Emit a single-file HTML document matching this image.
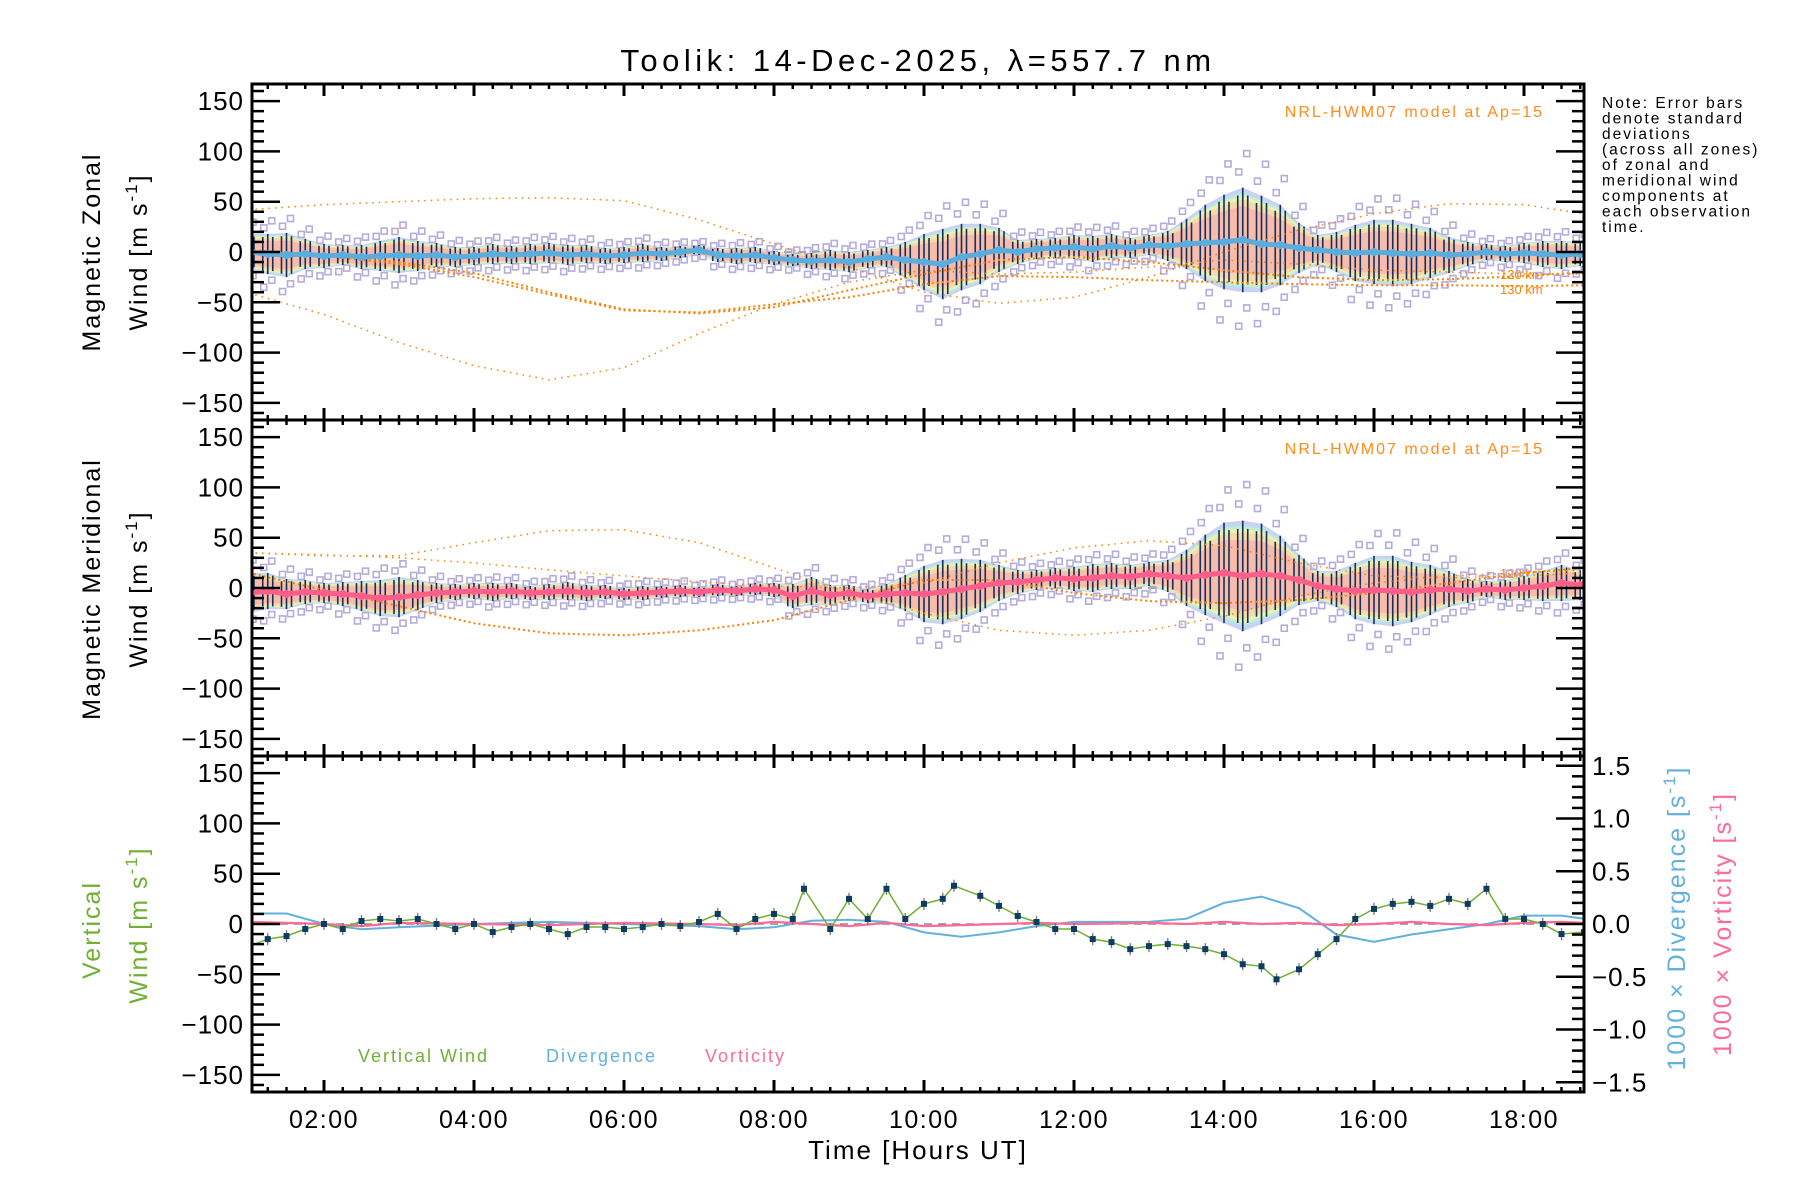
<!DOCTYPE html>
<html><head><meta charset="utf-8"><style>
html,body{margin:0;padding:0;background:#fff;}
svg{display:block;font-family:"Liberation Sans",sans-serif;}
</style></head><body>
<svg id="chart" width="1800" height="1200" viewBox="0 0 1800 1200" xmlns="http://www.w3.org/2000/svg">
<text x="918" y="71" font-size="31" letter-spacing="4.5" text-anchor="middle">Toolik: 14-Dec-2025, λ=557.7 nm</text>
<g font-size="15.5" letter-spacing="2">
<text x="1602" y="108">Note: Error bars</text><text x="1602" y="123.5">denote standard</text><text x="1602" y="139">deviations</text><text x="1602" y="154.5">(across all zones)</text><text x="1602" y="170">of zonal and</text><text x="1602" y="185.5">meridional wind</text><text x="1602" y="201">components at</text><text x="1602" y="216.5">each observation</text><text x="1602" y="232">time.</text>
</g>
<g letter-spacing="2">
<text transform="translate(100,252) rotate(-90)" font-size="25" text-anchor="middle">Magnetic Zonal</text>
<text transform="translate(147,252) rotate(-90)" font-size="25" text-anchor="middle">Wind [m s<tspan dy="-10" font-size="17">-1</tspan><tspan dy="10">]</tspan></text>
<text transform="translate(100,589) rotate(-90)" font-size="25" text-anchor="middle">Magnetic Meridional</text>
<text transform="translate(147,589) rotate(-90)" font-size="25" text-anchor="middle">Wind [m s<tspan dy="-10" font-size="17">-1</tspan><tspan dy="10">]</tspan></text>
<text transform="translate(100,930) rotate(-90)" font-size="25" fill="#6fb032" text-anchor="middle">Vertical</text>
<text transform="translate(147,925) rotate(-90)" font-size="25" fill="#6fb032" text-anchor="middle">Wind [m s<tspan dy="-10" font-size="17">-1</tspan><tspan dy="10">]</tspan></text>
<text transform="translate(1685,918) rotate(-90)" font-size="25" fill="#62b0de" text-anchor="middle">1000 × Divergence [s<tspan dy="-10" font-size="17">-1</tspan><tspan dy="10">]</tspan></text>
<text transform="translate(1731,924) rotate(-90)" font-size="25" fill="#ff6a96" text-anchor="middle">1000 × Vorticity [s<tspan dy="-10" font-size="17">-1</tspan><tspan dy="10">]</tspan></text>
<text x="918" y="1159" font-size="26" text-anchor="middle">Time [Hours UT]</text>
<text x="358" y="1062" font-size="18" fill="#6fb032">Vertical Wind</text>
<text x="546" y="1062" font-size="18" fill="#62b0de">Divergence</text>
<text x="705" y="1062" font-size="18" fill="#ff6a96">Vorticity</text>
<text x="1544" y="117" font-size="16" fill="#ff8c1a" text-anchor="end">NRL-HWM07 model at Ap=15</text>
<text x="1544" y="454" font-size="16" fill="#ff8c1a" text-anchor="end">NRL-HWM07 model at Ap=15</text>
</g>
<text x="1500" y="279" font-size="13" fill="#ff8000">120 km</text>
<text x="1500" y="294" font-size="13" fill="#ff8000">130 km</text>
<text x="1500" y="578" font-size="13" fill="#ff8000">120 km</text>
<text x="1500" y="592" font-size="13" fill="#ff8000">130 km</text>
<g id="plots"></g>
<g id="axes"></g>
</svg>
<script>
// ---- data ----
const gridHours = [];
for (let i = 0; i < 72; i++) gridHours.push(1 + 0.25 * i);
const zonalMean = [0,-2,-3,-2,-4,-3,-5,-4,-3,-4,-3,-5,-4,-2,-3,-2,-1,-3,-2,-4,-3,-1,-2,0,2,-3,-4,-3,-6,-8,-9,-8,-10,-7,-5,-8,-10,-12,-5,-2,2,0,3,4,5,3,6,4,7,6,8,9,10,12,8,7,4,2,0,-1,0,-1,-2,-1,-3,-2,0,-2,-1,-2,-3,-2];
const zonalSd = [18,20,22,15,12,10,12,15,18,15,12,10,9,10,9,10,10,10,9,8,8,9,7,6,5,7,8,8,7,6,8,10,10,9,10,18,28,35,33,30,22,12,10,10,12,13,12,10,10,15,25,38,47,52,48,40,25,15,20,28,32,33,30,25,18,12,8,8,10,13,14,12];
const merMean = [-5,-3,-6,-4,-5,-6,-8,-10,-9,-7,-5,-4,-3,-4,-3,-5,-4,-3,-5,-4,-6,-5,-4,-3,-4,-2,-3,-1,-2,-8,-3,-7,-5,-8,-6,-5,-6,-4,-1,2,5,6,8,10,9,10,12,11,14,12,10,13,15,12,14,12,8,2,-1,-3,-2,-3,-4,-2,-1,-3,-1,-2,0,2,5,3];
const merSd = [20,18,15,12,10,12,15,18,20,15,10,8,8,9,8,7,8,9,8,7,6,7,6,6,5,6,5,6,7,12,14,10,8,7,10,18,28,32,30,26,18,12,10,10,12,14,13,12,12,16,28,40,50,55,50,40,25,15,18,28,34,35,30,25,18,12,8,10,12,15,18,15];
const modelHours = [1,2,3,4,5,6,7,8,9,10,11,12,13,14,15,16,17,18,18.8];
const zonalModelA = [42,47,50,53,54,51,32,8,-15,-40,-51,-45,-25,0,22,38,48,47,38];
const zonalModelB = [-41,-62,-90,-113,-127,-115,-81,-52,-30,-18,-22,-20,-15,-8,-12,-18,-20,-22,-22];
const zonalModel120 = [2,-3,-10,-21,-40,-57,-61,-55,-38,-22,-8,-5,-10,-18,-25,-28,-27,-24,-20];
const zonalModel130 = [0,-4,-12,-25,-42,-58,-60,-52,-45,-32,-24,-25,-28,-30,-32,-33,-33,-34,-33];
const merModelA = [35,32,32,45,57,58,45,20,-5,-25,-42,-47,-42,-28,-8,5,12,15,18];
const merModelB = [35,33,30,25,18,12,6,2,0,5,25,40,47,42,25,12,10,12,15];
const merModel120 = [15,-2,-18,-35,-45,-47,-42,-32,-12,8,8,-5,-13,-15,-12,-5,5,15,20];
const vwHours = [1.0,1.25,1.5,1.75,2.0,2.25,2.5,2.75,3.0,3.25,3.5,3.75,4.0,4.25,4.5,4.75,5.0,5.25,5.5,5.75,6.0,6.25,6.5,6.75,7.0,7.25,7.5,7.75,8.0,8.25,8.4,8.75,9.0,9.25,9.5,9.75,10.0,10.25,10.4,10.75,11.0,11.25,11.5,11.75,12.0,12.25,12.5,12.75,13.0,13.25,13.5,13.75,14.0,14.25,14.5,14.7,15.0,15.25,15.5,15.75,16.0,16.25,16.5,16.75,17.0,17.25,17.5,17.75,18.0,18.25,18.5,18.8];
const vertWind = [-22,-15,-12,-5,0,-5,3,5,3,5,0,-5,0,-8,-3,0,-5,-10,-3,-3,-5,-3,0,-2,2,10,-5,5,10,5,35,-5,25,5,35,5,20,25,38,28,18,8,2,-5,-5,-15,-18,-25,-22,-20,-22,-25,-30,-40,-42,-55,-45,-30,-15,5,15,20,22,18,25,20,35,5,5,0,-10,-8];
const divHours = [1,1.5,2,2.5,3,4,5,6,7,7.5,8,8.5,9,9.5,10,10.5,11,11.5,12,13,13.5,14,14.5,15,15.5,16,16.5,17,17.5,18,18.5,18.8];
const divergence = [0.1,0.1,0.0,-0.05,-0.03,0.0,0.02,0.0,-0.02,-0.05,-0.03,0.03,0.04,0.02,-0.08,-0.12,-0.08,-0.02,0.02,0.02,0.05,0.2,0.26,0.15,-0.1,-0.17,-0.1,-0.05,0.0,0.08,0.08,0.05];
const vorticity = [0.02,0.01,0.0,-0.02,0.01,0.0,-0.01,0.01,0.0,-0.01,0.02,0.0,-0.02,0.01,-0.02,-0.01,0.0,0.01,0.0,0.01,0.0,0.02,0.0,0.01,-0.01,0.0,0.02,0.0,-0.01,0.01,0.02,0.01];
const yTicks = [-150,-100,-50,0,50,100,150];
const yTickLabels = ['\u2212150','\u2212100','\u221250','0','50','100','150'];
const rTicks = [-1.5,-1.0,-0.5,0.0,0.5,1.0,1.5];
const rTickLabels = ['\u22121.5','\u22121.0','\u22120.5','0.0','0.5','1.0','1.5'];
const xTicks = [2,4,6,8,10,12,14,16,18];
const xTickLabels = ['02:00','04:00','06:00','08:00','10:00','12:00','14:00','16:00','18:00'];

// ---- scales ----
const NS = 'http://www.w3.org/2000/svg';
const X0 = 252, X1 = 1584;
const tops = [84, 420, 756];
const PH = 336;
function xS(h) { return 324 + (h - 2) * 75; }
function yS(p, v) { return tops[p] + 168 - v * 1.006; }
function yR(v) { return tops[2] + 168 - v * 105.5; }
function mk(tag, attrs, parent) {
  const e = document.createElementNS(NS, tag);
  for (const k in attrs) e.setAttribute(k, attrs[k]);
  parent.appendChild(e);
  return e;
}
const plots = document.getElementById('plots');
const axes = document.getElementById('axes');
const defs = mk('defs', {}, plots);
for (let p = 0; p < 3; p++) {
  const cp = mk('clipPath', {id: 'clip' + p}, defs);
  mk('rect', {x: X0, y: tops[p], width: X1 - X0, height: PH}, cp);
}
function pts(hs, vs, f) { return hs.map((h, i) => xS(h).toFixed(1) + ',' + f(vs[i]).toFixed(1)).join(' '); }

function windPanel(p, mean, sd, lineColor, lineName, models) {
  const g = mk('g', {'clip-path': 'url(#clip' + p + ')'}, plots);
  
  
  mk('line', {x1: X0, x2: X1, y1: yS(p, 0), y2: yS(p, 0), stroke: '#888', 'stroke-width': 1.5, 'stroke-dasharray': '8,6'}, g);
  const bands = [[1.0,'#c4c0f0'],[0.95,'#b8def6'],[0.9,'#c6f2c4'],[0.85,'#f6f0b4'],[0.78,'#f8d4a6'],[0.65,'#f8b4ac']];
  bands.forEach(([k, c]) => {
    const up = gridHours.map((h, i) => xS(h).toFixed(1) + ',' + yS(p, mean[i] + k * sd[i]).toFixed(1));
    const dn = gridHours.map((h, i) => xS(h).toFixed(1) + ',' + yS(p, mean[i] - k * sd[i]).toFixed(1)).reverse();
    const b = mk('polygon', {points: up.concat(dn).join(' '), fill: c, opacity: 0.8}, g);
    
    
  });
  gridHours.forEach((h, i) => {
    [-1.65, -1.3, 1.3, 1.65].forEach((k, j) => {
      const off = (j % 2 ? 4 : -4);
      const s = mk('rect', {x: xS(h) + off - 3, y: yS(p, mean[i] + k * sd[i]) - 3, width: 6, height: 6, fill: 'none', stroke: '#b4acda', 'stroke-width': 1.6}, g);
      
      
    });
  });
  gridHours.forEach((h, i) => {
    [-5, 0, 5].forEach(dx => {
      const e = mk('line', {x1: xS(h) + dx, x2: xS(h) + dx, y1: yS(p, mean[i] - sd[i] * (dx ? 0.85 : 1)), y2: yS(p, mean[i] + sd[i] * (dx ? 0.85 : 1)), stroke: '#14305a', 'stroke-width': 1.6}, g);
      
      
    });
  });
  models.forEach(([vals, dash, nm]) => {
    const m = mk('polyline', {points: pts(modelHours, vals, v => yS(p, v)), fill: 'none', stroke: '#ff8000', 'stroke-width': dash === 'coarse' ? 2 : 1.5, 'stroke-dasharray': dash === 'coarse' ? '2,3' : '1.5,5'}, g);
    
    
  });
  const ml = mk('polyline', {points: pts(gridHours, mean, v => yS(p, v)), fill: 'none', stroke: lineColor, 'stroke-width': 5, 'stroke-linejoin': 'round'}, g);
  
  
  gridHours.forEach((h, i) => {
    const d = mk('circle', {cx: xS(h), cy: yS(p, mean[i]), r: 4, fill: lineColor}, g);
    
    
  });
}
windPanel(0, zonalMean, zonalSd, '#5aaede', 'zonal-mean-line', [[zonalModelA,'fine','zonal-model-curve-a'],[zonalModelB,'fine','zonal-model-curve-b'],[zonalModel120,'coarse','zonal-model-120km'],[zonalModel130,'coarse','zonal-model-130km']]);
windPanel(1, merMean, merSd, '#ff5e8a', 'meridional-mean-line', [[merModelA,'fine','meridional-model-curve-a'],[merModelB,'fine','meridional-model-curve-b'],[merModel120,'coarse','meridional-model-120km']]);

// panel 3
const g3 = mk('g', {'clip-path': 'url(#clip2)'}, plots);


mk('line', {x1: X0, x2: X1, y1: yS(2, 0), y2: yS(2, 0), stroke: '#888', 'stroke-width': 1.5, 'stroke-dasharray': '8,6'}, g3);
const dl = mk('polyline', {points: pts(divHours, divergence, yR), fill: 'none', stroke: '#62b0de', 'stroke-width': 2}, g3);


const vl = mk('polyline', {points: pts(divHours, vorticity, yR), fill: 'none', stroke: '#ff6a96', 'stroke-width': 2.2}, g3);


vwHours.forEach((h, i) => {
  const e = mk('line', {x1: xS(h), x2: xS(h), y1: yS(2, vertWind[i] - 6), y2: yS(2, vertWind[i] + 6), stroke: '#777', 'stroke-width': 1.3}, g3);
  
  
});
const wl = mk('polyline', {points: pts(vwHours, vertWind, v => yS(2, v)), fill: 'none', stroke: '#6fb032', 'stroke-width': 1.5}, g3);


vwHours.forEach((h, i) => {
  const s = mk('rect', {x: xS(h) - 3, y: yS(2, vertWind[i]) - 3, width: 6, height: 6, fill: '#0c3c64'}, g3);
  
  
});

// ---- axes ----
for (let p = 0; p < 3; p++) {
  const T = tops[p], B = T + PH;
  const fr = mk('rect', {x: X0, y: T, width: X1 - X0, height: PH, fill: 'none', stroke: '#000', 'stroke-width': 3}, axes);
  
  
  for (let v = -160; v <= 160; v += 10) {
    const y = yS(p, v);
    if (y < T + 1 || y > B - 1) continue;
    const len = v % 50 === 0 ? 28 : 12;
    mk('line', {x1: X0, x2: X0 + len, y1: y, y2: y, stroke: '#000', 'stroke-width': 2.5}, axes);
    if (p < 2) mk('line', {x1: X1, x2: X1 - len, y1: y, y2: y, stroke: '#000', 'stroke-width': 2.5}, axes);
  }
  yTicks.forEach((v, i) => {
    const t = mk('text', {x: 244, y: yS(p, v) + 9, 'font-size': 26, 'text-anchor': 'end', 'letter-spacing': 1}, axes);
    t.textContent = yTickLabels[i];
    
    
  });
  for (let h = 1.25; h <= 18.8; h += 0.25) {
    const x = xS(h);
    const major = Math.abs(h % 2) < 1e-6;
    const len = major ? 12 : 5;
    mk('line', {x1: x, x2: x, y1: T, y2: T + len, stroke: '#000', 'stroke-width': major ? 3 : 2.5}, axes);
    mk('line', {x1: x, x2: x, y1: B, y2: B - len, stroke: '#000', 'stroke-width': major ? 3 : 2.5}, axes);
  }
}
for (let v = -15; v <= 15; v += 1) {
  const y = yR(v / 10);
  const len = v % 5 === 0 ? 28 : 12;
  mk('line', {x1: X1, x2: X1 - len, y1: y, y2: y, stroke: '#000', 'stroke-width': 2.5}, axes);
}
rTicks.forEach((v, i) => {
  const t = mk('text', {x: 1592, y: yR(v) + 9, 'font-size': 26, 'letter-spacing': 1}, axes);
  t.textContent = rTickLabels[i];
  
  
});
xTicks.forEach((h, i) => {
  const t = mk('text', {x: xS(h), y: 1128, 'font-size': 25, 'text-anchor': 'middle', 'letter-spacing': 1.5}, axes);
  t.textContent = xTickLabels[i];
  
  
});
</script>
</body></html>
